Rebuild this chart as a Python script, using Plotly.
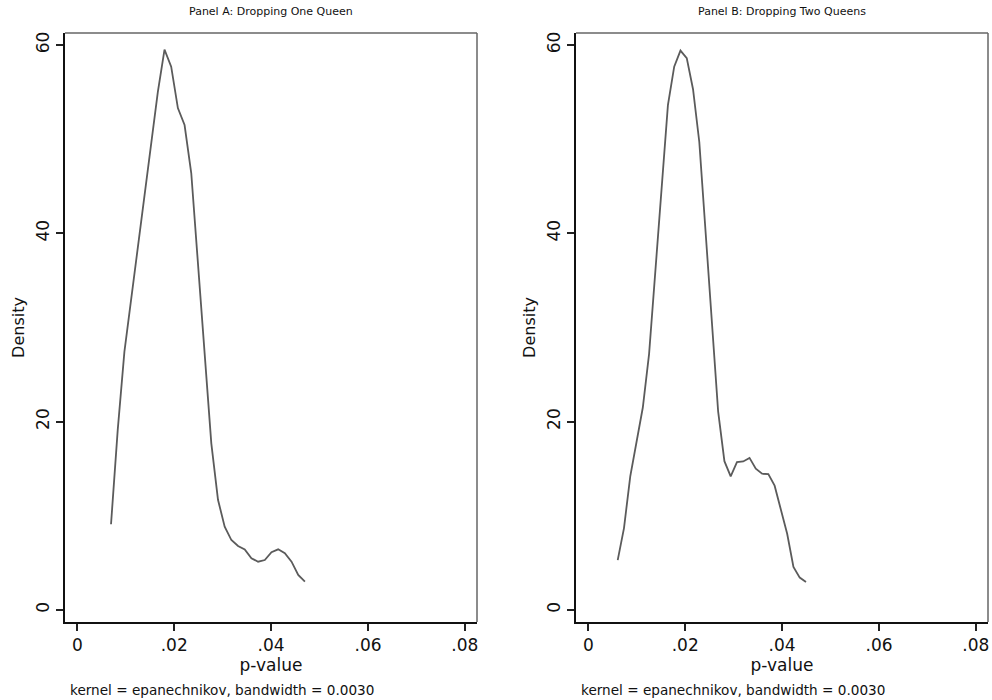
import plotly.graph_objects as go

# Kernel density estimates of the p-value, evaluated on an even grid
grid_a_start, grid_a_step = 0.00696, 0.00138
density_a = [9.1, 19.1, 27.4, 33.0, 38.3, 43.8, 49.3, 55.0, 59.5, 57.7,
             53.3, 51.5, 46.4, 37.0, 26.7, 17.7, 11.7, 8.85, 7.43, 6.8,
             6.44, 5.49, 5.13, 5.31, 6.13, 6.44, 6.02, 5.13, 3.72, 3.01]

grid_b_start, grid_b_step = 0.00607, 0.0012955
density_b = [5.3, 8.7, 14.2, 17.8, 21.5, 27.2, 36.0, 45.0, 53.6, 57.7,
             59.4, 58.6, 55.3, 49.7, 40.3, 29.8, 21.1, 15.8, 14.2, 15.7,
             15.77, 16.15, 15.0, 14.47, 14.43, 13.2, 10.6, 8.1, 4.57, 3.44,
             2.97]

pvalue_a = [grid_a_start + i * grid_a_step for i in range(len(density_a))]
pvalue_b = [grid_b_start + i * grid_b_step for i in range(len(density_b))]

panel_titles = ["Panel A: Dropping One Queen", "Panel B: Dropping Two Queens"]
x_ticks = [0, 0.02, 0.04, 0.06, 0.08]
x_tick_text = ["0", ".02", ".04", ".06", ".08"]
y_ticks = [0, 20, 40, 60]
note_text = "kernel = epanechnikov, bandwidth = 0.0030"

FONT = "DejaVu Sans, Liberation Sans, Arial, sans-serif"
LINE = "#5b5b5b"

fig = go.Figure()
fig.add_trace(go.Scatter(x=pvalue_a, y=density_a, mode="lines",
                         line=dict(color=LINE, width=1.8),
                         xaxis="x", yaxis="y", showlegend=False))
fig.add_trace(go.Scatter(x=pvalue_b, y=density_b, mode="lines",
                         line=dict(color=LINE, width=1.8),
                         xaxis="x2", yaxis="y2", showlegend=False))

x_domains = [[65 / 992, 477 / 992], [576 / 992, 988 / 992]]
y_domain = [1 - 622 / 700, 1 - 33 / 700]

common_x = dict(range=[-0.002539, 0.0825], tickvals=x_ticks, ticktext=x_tick_text,
                ticks="outside", ticklen=7, tickwidth=1.5, tickcolor="#222",
                showline=True, linecolor="#111", linewidth=2,
                showgrid=False, zeroline=False,
                tickfont=dict(size=17, color="#111", family=FONT),
                title=dict(text="p-value", font=dict(size=17, color="#111", family=FONT),
                           standoff=1))
common_y = dict(range=[-1.274, 61.27], tickvals=y_ticks, tickangle=-90,
                ticks="outside", ticklen=7, tickwidth=1.5, tickcolor="#222",
                showline=True, linecolor="#111", linewidth=2,
                showgrid=False, zeroline=False, domain=y_domain,
                tickfont=dict(size=17, color="#111", family=FONT),
                title=dict(text="Density", font=dict(size=16, color="#111", family=FONT),
                           standoff=5))

fig.update_layout(
    width=992, height=700,
    margin=dict(l=0, r=0, t=0, b=0),
    paper_bgcolor="white", plot_bgcolor="white",
    font=dict(family=FONT, color="#111"),
    xaxis=dict(domain=x_domains[0], anchor="y", **common_x),
    yaxis=dict(anchor="x", **common_y),
    xaxis2=dict(domain=x_domains[1], anchor="y2", **common_x),
    yaxis2=dict(anchor="x2", **common_y),
)

# Top and right edges of each plot region
for xr, yr in (("x domain", "y domain"), ("x2 domain", "y2 domain")):
    fig.add_shape(type="line", xref=xr, yref=yr, x0=0, x1=1, y0=1, y1=1,
                  line=dict(color="#666", width=1.5))
    fig.add_shape(type="line", xref=xr, yref=yr, x0=1, x1=1, y0=0, y1=1,
                  line=dict(color="#666", width=1.5))

for dom, title in zip(x_domains, panel_titles):
    fig.add_annotation(text=title, xref="paper", yref="paper",
                       x=(dom[0] + dom[1]) / 2, y=1 - 12 / 700,
                       xanchor="center", yanchor="middle", showarrow=False,
                       font=dict(size=11, color="#111", family=FONT))
    fig.add_annotation(text=note_text, xref="paper", yref="paper",
                       x=dom[0] + 3 / 992, y=1 - 690 / 700,
                       xanchor="left", yanchor="middle", showarrow=False,
                       font=dict(size=13.6, color="#111", family=FONT))

fig.write_html("out.html")
